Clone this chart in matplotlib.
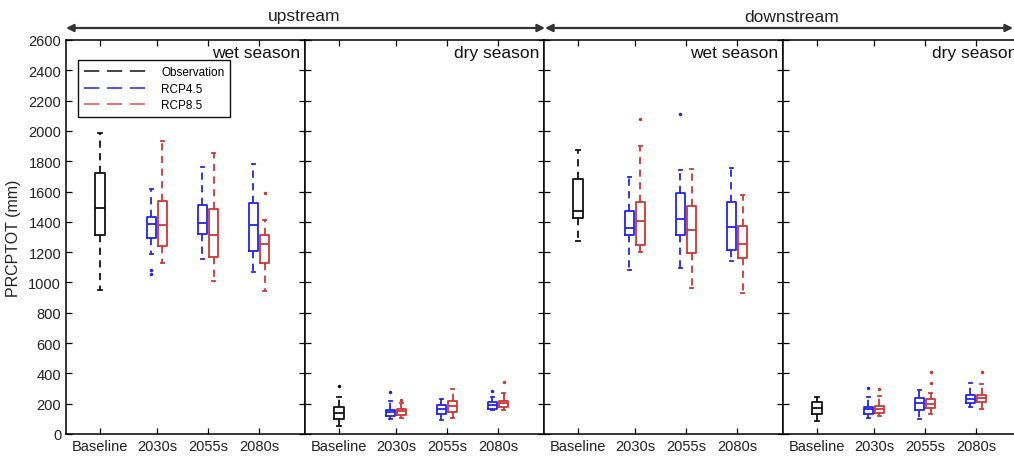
import matplotlib
matplotlib.use('Agg')
import matplotlib.pyplot as plt
from matplotlib.lines import Line2D

plt.rcParams['font.family'] = ['Liberation Sans', 'DejaVu Sans']

# ---------------- data ----------------
CATEGORIES = ["Baseline", "2030s", "2055s", "2080s"]
PANEL_TITLES = ["wet season", "dry season", "wet season", "dry season"]
REGIONS = ["upstream", "downstream"]
SERIES = ["Observation", "RCP4.5", "RCP8.5"]

# stats: [whislo, q1, median, q3, whishi]
UP_WET_OBS = [950, 1315, 1490, 1725, 1985]
UP_WET_OBS_OUT = []
UP_WET_RCP45 = [[1188, 1296, 1384, 1434, 1617],
                [1155, 1318, 1392, 1513, 1762],
                [1071, 1210, 1377, 1522, 1782]]
UP_WET_RCP45_OUT = [[1084, 1058], [], []]
UP_WET_RCP85 = [[1131, 1243, 1382, 1535, 1934],
                [1012, 1168, 1311, 1487, 1854],
                [942, 1131, 1256, 1313, 1414]]
UP_WET_RCP85_OUT = [[], [], [1593]]

UP_DRY_OBS = [51, 99, 139, 176, 242]
UP_DRY_OBS_OUT = [319]
UP_DRY_RCP45 = [[99, 117, 143, 161, 215],
                [92, 134, 165, 189, 233],
                [156, 167, 189, 209, 244]]
UP_DRY_RCP45_OUT = [[275], [], [282]]
UP_DRY_RCP85 = [[103, 123, 150, 165, 205],
                [108, 145, 182, 215, 297],
                [156, 178, 205, 220, 271]]
UP_DRY_RCP85_OUT = [[222], [], [341]]

DN_WET_OBS = [1271, 1425, 1474, 1683, 1876]
DN_WET_OBS_OUT = []
DN_WET_RCP45 = [[1084, 1311, 1359, 1474, 1698],
                [1095, 1315, 1419, 1590, 1740],
                [1144, 1214, 1368, 1533, 1755]]
DN_WET_RCP45_OUT = [[], [2114], []]
DN_WET_RCP85 = [[1201, 1249, 1404, 1531, 1898],
                [963, 1194, 1348, 1505, 1746],
                [933, 1160, 1254, 1373, 1579]]
DN_WET_RCP85_OUT = [[2081], [], []]

DN_DRY_OBS = [84, 132, 172, 209, 246]
DN_DRY_OBS_OUT = []
DN_DRY_RCP45 = [[106, 132, 163, 180, 244],
                [101, 161, 205, 238, 288],
                [178, 205, 231, 260, 337]]
DN_DRY_RCP45_OUT = [[304], [], []]
DN_DRY_RCP85 = [[117, 139, 165, 182, 253],
                [132, 172, 198, 229, 268],
                [167, 209, 238, 260, 332]]
DN_DRY_RCP85_OUT = [[299], [409, 337], [409]]

PANELS = [
    (UP_WET_OBS, UP_WET_OBS_OUT, UP_WET_RCP45, UP_WET_RCP45_OUT, UP_WET_RCP85, UP_WET_RCP85_OUT),
    (UP_DRY_OBS, UP_DRY_OBS_OUT, UP_DRY_RCP45, UP_DRY_RCP45_OUT, UP_DRY_RCP85, UP_DRY_RCP85_OUT),
    (DN_WET_OBS, DN_WET_OBS_OUT, DN_WET_RCP45, DN_WET_RCP45_OUT, DN_WET_RCP85, DN_WET_RCP85_OUT),
    (DN_DRY_OBS, DN_DRY_OBS_OUT, DN_DRY_RCP45, DN_DRY_RCP45_OUT, DN_DRY_RCP85, DN_DRY_RCP85_OUT),
]

# ---------------- style / layout ----------------
C_OBS = '#111111'
C_45 = '#2323f0'
C_85 = '#cf3535'
W, H = 1014, 460
fig = plt.figure(figsize=(W / 100, H / 100), dpi=100)

ax_left = 66 / W
ax_w = 239 / W
ax_bottom = 1 - 435 / H
ax_h = 394 / H

BASE_X = 0.667
FUT_X = [1.784, 2.784, 3.784]
OFF = 0.108
BW = 0.18


def stat(v, out):
    return dict(whislo=v[0], q1=v[1], med=v[2], q3=v[3], whishi=v[4], fliers=out)


def draw(ax, stats, positions, color, width):
    ax.bxp(stats, positions=positions, widths=width, showfliers=True,
           capwidths=width * 0.35, manage_ticks=False,
           boxprops=dict(color=color, lw=1.3),
           whiskerprops=dict(color=color, lw=1.3, ls=(0, (4, 3))),
           capprops=dict(color=color, lw=1.3),
           medianprops=dict(color=color, lw=1.3),
           flierprops=dict(marker='.', markerfacecolor=color,
                           markeredgecolor=color, markersize=3, ls='none'))


axes = []
for i, (obs, obs_out, r45, r45_out, r85, r85_out) in enumerate(PANELS):
    ax = fig.add_axes([ax_left + i * ax_w, ax_bottom, ax_w, ax_h])
    axes.append(ax)
    draw(ax, [stat(obs, obs_out)], [BASE_X], C_OBS, 0.19)
    draw(ax, [stat(v, o) for v, o in zip(r45, r45_out)],
         [x - OFF for x in FUT_X], C_45, BW)
    draw(ax, [stat(v, o) for v, o in zip(r85, r85_out)],
         [x + OFF for x in FUT_X], C_85, BW)
    ax.set_xlim(0, 4.686)
    ax.set_ylim(0, 2600)
    ax.set_xticks([BASE_X] + FUT_X)
    ax.set_xticklabels(CATEGORIES, fontsize=10.5, color='#222222')
    ax.set_yticks(range(0, 2601, 200))
    if i == 0:
        ax.tick_params(axis='y', labelsize=10.5, labelcolor='#222222')
        ax.set_ylabel('PRCPTOT (mm)', fontsize=11.5, color='#222222', labelpad=5)
    else:
        ax.set_yticklabels([])
    ax.tick_params(direction='in', top=True, right=True, length=4, width=0.9)
    for s in ax.spines.values():
        s.set_linewidth(1.1)
    ax.text(0.98, 0.968, PANEL_TITLES[i], transform=ax.transAxes,
            ha='right', va='center', fontsize=12.5, color='#111111')

legend_handles = [
    Line2D([], [], color=C_OBS, lw=1.1, ls=(0, (10, 5))),
    Line2D([], [], color=C_45, lw=1.1, ls=(0, (10, 5))),
    Line2D([], [], color='#e05050', lw=1.1, ls=(0, (10, 5))),
]
leg = axes[0].legend(legend_handles, SERIES, loc='upper left',
                     bbox_to_anchor=(0.05, 0.949), borderaxespad=0,
                     fontsize=8.5, handlelength=5.7, handletextpad=0.85,
                     labelspacing=0.4, borderpad=0.5, fancybox=False,
                     framealpha=1, edgecolor='#111111')
leg.get_frame().set_linewidth(1.0)

# region arrows
ya = 1 - 29 / H
fig.patches  # ensure attribute
for x0, x1 in [(66 / W, 545 / W), (545 / W, 1013 / W)]:
    fig.add_artist(matplotlib.patches.FancyArrowPatch(
        (x0, ya), (x1, ya), transform=fig.transFigure,
        arrowstyle='<|-|>', mutation_scale=11, color='#333333', lw=1.6,
        shrinkA=0, shrinkB=0))
fig.text(304 / W, 1 - 17 / H, REGIONS[0], ha='center', va='center', fontsize=12.5, color='#222222')
fig.text(792 / W, 1 - 17 / H, REGIONS[1], ha='center', va='center', fontsize=12.5, color='#222222')

fig.savefig('out.png', dpi=100)
